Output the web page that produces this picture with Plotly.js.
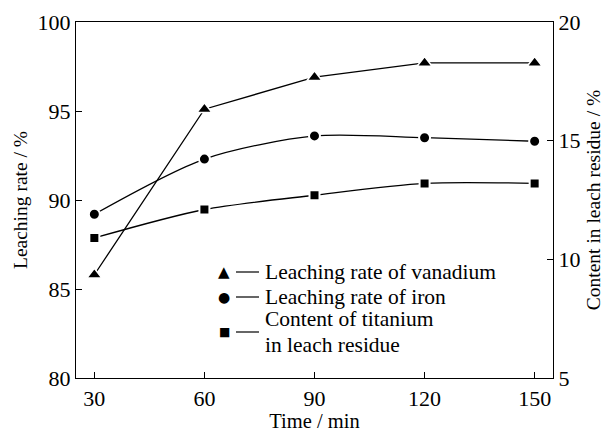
<!DOCTYPE html>
<html>
<head>
<meta charset="utf-8">
<script src="https://cdn.plot.ly/plotly-3.0.1.min.js"></script>
<style>html,body{margin:0;padding:0;background:#fff;}#chart{width:611px;height:432px;}</style>
</head>
<body>
<div id="chart"></div>
<script>
const times = [30, 60, 90, 120, 150];
const vanadium = [85.8, 95.1, 96.9, 97.7, 97.7];
const iron = [89.2, 92.3, 93.6, 93.5, 93.3];
const titanium = [10.9, 12.1, 12.7, 13.2, 13.2];
const xTicks = [30, 60, 90, 120, 150];
const yTicks = [80, 85, 90, 95, 100];
const y2Ticks = [5, 10, 15, 20];
const seriesNames = ['Leaching rate of vanadium', 'Leaching rate of iron', 'Content of titanium in leach residue'];
const legendLines = [['Leaching rate of vanadium'], ['Leaching rate of iron'], ['Content of titanium', 'in leach residue']];
const legendGlyphs = ['▲', '●', '■'];

const fam = 'Liberation Serif';
const tickSize = 22;
const titleSize = 19.5;
const legendSize = 21.5;

const traces = [
  {x: times, y: vanadium, name: seriesNames[0], mode: 'lines+markers',
   line: {color: '#000', width: 1.3, shape: 'linear'},
   marker: {symbol: 'triangle-up', size: 13, color: '#000', line: {color: '#fff', width: 1.5}}},
  {x: times, y: iron, name: seriesNames[1], mode: 'lines+markers',
   line: {color: '#000', width: 1.3, shape: 'spline', smoothing: 0.8},
   marker: {symbol: 'circle', size: 11, color: '#000', line: {color: '#fff', width: 2}}},
  {x: times, y: titanium, name: seriesNames[2], mode: 'lines+markers', yaxis: 'y2',
   line: {color: '#000', width: 1.3, shape: 'spline', smoothing: 0.8},
   marker: {symbol: 'square', size: 10, color: '#000', line: {color: '#fff', width: 2}}}
];

// legend layout (paper coordinates)
const L = 76, W = 477, B = 378, H = 356;
const px = v => (v - L) / W;
const py = v => (B - v) / H;
const symbolRows = [272, 297, 332];
const textRows = [[272], [297], [319, 345]];
const glyphSizes = [15, 14, 12];

const annotations = [];
const shapes = [];
legendLines.forEach((lines, i) => {
  annotations.push({xref: 'paper', yref: 'paper', x: px(224), y: py(symbolRows[i]),
    xanchor: 'center', yanchor: 'middle', showarrow: false, text: legendGlyphs[i],
    font: {family: 'DejaVu Sans', size: glyphSizes[i], color: '#000'}});
  shapes.push({type: 'line', xref: 'paper', yref: 'paper', x0: px(236), x1: px(259),
    y0: py(symbolRows[i]), y1: py(symbolRows[i]), line: {color: '#000', width: 1.2}});
  lines.forEach((t, j) => {
    annotations.push({xref: 'paper', yref: 'paper', x: px(264), y: py(textRows[i][j]),
      xanchor: 'left', yanchor: 'middle', showarrow: false, text: t, borderpad: 0,
      font: {family: fam, size: legendSize, color: '#000'}});
  });
});

const layout = {
  width: 611, height: 432,
  margin: {l: 76, r: 58, t: 22, b: 54},
  paper_bgcolor: '#fff', plot_bgcolor: '#fff',
  font: {family: fam, color: '#000', size: tickSize},
  showlegend: false,
  annotations: annotations,
  shapes: shapes,
  xaxis: {range: [25, 155], tickvals: xTicks, ticks: 'inside', ticklen: 6, tickcolor: '#000',
          showline: true, linecolor: '#000', linewidth: 1.2, mirror: true, showgrid: false, zeroline: false,
          tickfont: {family: fam, size: tickSize}, title: {text: 'Time / min', font: {family: fam, size: 20.5}, standoff: 2}},
  yaxis: {range: [80, 100], tickvals: yTicks, ticks: 'inside', ticklen: 6, tickcolor: '#000',
          showline: true, linecolor: '#000', linewidth: 1.2, showgrid: false, zeroline: false,
          tickfont: {family: fam, size: tickSize}, title: {text: 'Leaching rate / %', font: {family: fam, size: titleSize}, standoff: 4}},
  yaxis2: {range: [5, 20], tickvals: y2Ticks, ticks: 'inside', ticklen: 6, tickcolor: '#000',
           overlaying: 'y', side: 'right', showline: true, linecolor: '#000', linewidth: 1.2,
           showgrid: false, zeroline: false, tickfont: {family: fam, size: tickSize},
           title: {text: 'Content in leach residue / %', font: {family: fam, size: titleSize}, standoff: 6}}
};

Plotly.newPlot('chart', traces, layout, {displayModeBar: false, staticPlot: true});
</script>
</body>
</html>
